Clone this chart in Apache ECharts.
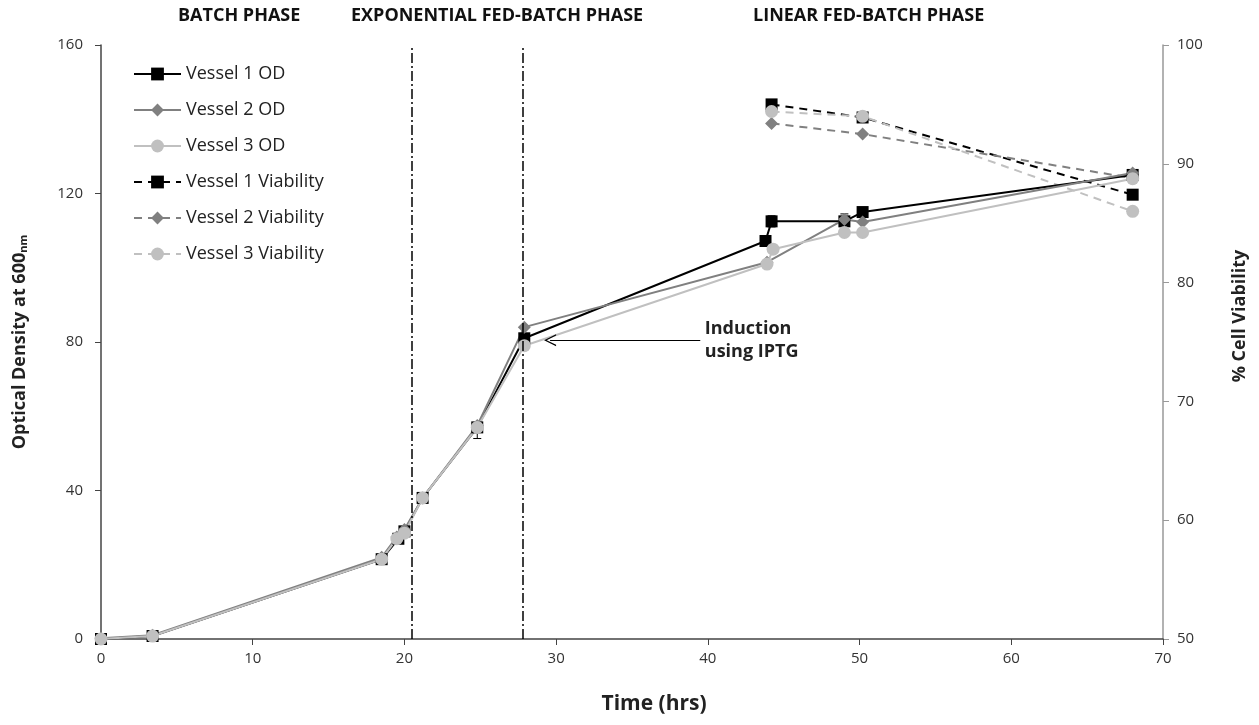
<!DOCTYPE html>
<html><head><meta charset="utf-8">
<script src="https://cdn.jsdelivr.net/npm/echarts@6/dist/echarts.min.js"></script>
<style>html,body{margin:0;padding:0;background:#fff}#c{width:1259px;height:725px}</style>
</head><body><div id="c"></div>
<script>
// Time (hrs), Optical density at 600nm
const v1OD = [[0,0],[3.4,0.8],[18.5,21.5],[19.6,27],[20,29],[21.2,38],[24.8,57],[27.9,81],[43.8,107.2],[44.2,112.5],[49,112.5],[50.2,115],[68,125]];
const v2OD = [[0,0.2],[3.4,1],[18.5,22],[19.5,27.5],[20,29.5],[21.2,38],[24.8,57.5],[27.9,84],[43.9,101.5],[49,113],[50.2,112.3],[68,125.5]];
const v3OD = [[0,0],[3.4,0.8],[18.5,21.5],[19.5,27],[20,28.5],[21.2,38],[24.8,57],[27.9,79],[43.9,101],[44.3,105],[49,109.5],[50.2,109.5],[68,124]];
// error bars: [time, low, high]
const odErr = [[24.8,54,57],[49,110.5,114.5],[44.2,111,114]];
// % cell viability
const v1Via = [[44.2,95.0],[50.2,93.9],[68,87.4]];
const v2Via = [[44.2,93.4],[50.2,92.5],[68,88.8]];
const v3Via = [[44.2,94.4],[50.2,94.0],[68,86.0]];
const phaseLines = [20.5, 27.8];
const xTicks = {min:0, max:70, interval:10};
const odTicks = {min:0, max:160, interval:40};
const viaTicks = {min:50, max:100, interval:10};

const FONT = 'Open Sans';
const C1 = '#000000', C2 = '#808080', C3 = '#c0c0c0';
const chart = echarts.init(document.getElementById('c'));

function odSeries(name, data, color, symbol, size){
  return {name, type:'line', data, xAxisIndex:0, yAxisIndex:0, symbol, symbolSize:size,
    lineStyle:{color, width:2}, itemStyle:{color}, z:3};
}
function viaSeries(name, data, color, symbol, size){
  return {name, type:'line', data, xAxisIndex:0, yAxisIndex:1, symbol, symbolSize:size,
    lineStyle:{color, width:2, type:[8,6]}, itemStyle:{color}, z:3};
}
const s1 = odSeries('Vessel 1 OD', v1OD, C1, 'rect', 12);
s1.markLine = {silent:true, symbol:['none','none'], label:{show:false},
  lineStyle:{color:'#000', width:1.5, type:[10,3,2,3]},
  data: phaseLines.map(x => ({xAxis:x}))};
const s3 = odSeries('Vessel 3 OD', v3OD, C3, 'circle', 13);
s3.markLine = {silent:true, symbol:['none','path://M5,0 L10,10 L8.8,10 L5,2.2 L1.2,10 L0,10 Z'], symbolSize:[12,12],
  label:{show:false}, lineStyle:{color:'#000', width:1, type:'solid'}, itemStyle:{color:'#000'},
  data:[[{coord:[39.5,80.5]},{coord:[29.6,80.5]}]]};
s3.markPoint = {silent:true, symbol:'circle', symbolSize:0,
  label:{show:true, position:'right', distance:0, formatter:'Induction\nusing IPTG',
    fontFamily:FONT, fontWeight:'bold', fontSize:18, lineHeight:23, color:'#222', align:'left'},
  data:[{coord:[39.8,80.5]}]};

const errSeries = {type:'custom', xAxisIndex:0, yAxisIndex:0, z:2, silent:true,
  data: odErr,
  renderItem(params, api){
    const x = api.value(0), lo = api.coord([x, api.value(1)]), hi = api.coord([x, api.value(2)]);
    const w = 4, st = {stroke:'#000', lineWidth:1};
    return {type:'group', children:[
      {type:'line', shape:{x1:lo[0], y1:lo[1], x2:hi[0], y2:hi[1]}, style:st},
      {type:'line', shape:{x1:lo[0]-w, y1:lo[1], x2:lo[0]+w, y2:lo[1]}, style:st},
      {type:'line', shape:{x1:hi[0]-w, y1:hi[1], x2:hi[0]+w, y2:hi[1]}, style:st}]};
  }};

const axisLabel = {fontFamily:FONT, fontSize:15, color:'#333'};
chart.setOption({
  animation:false,
  textStyle:{fontFamily:FONT},
  grid:{left:101, right:96, top:45, bottom:86},
  legend:{orient:'vertical', left:133, top:65, padding:0, itemWidth:47, itemHeight:16, itemGap:18,
    textStyle:{fontFamily:FONT, fontSize:18, lineHeight:16, color:'#222'},
    data:['Vessel 1 OD','Vessel 2 OD','Vessel 3 OD','Vessel 1 Viability','Vessel 2 Viability','Vessel 3 Viability']},
  xAxis:{type:'value', min:xTicks.min, max:xTicks.max, interval:xTicks.interval,
    name:'Time (hrs)', nameLocation:'middle', nameGap:55,
    nameTextStyle:{fontFamily:FONT, fontWeight:'bold', fontSize:21, color:'#222', padding:[0,0,0,44]},
    axisLine:{lineStyle:{color:'#444', width:1.5}}, axisTick:{show:true, length:6, lineStyle:{color:'#444'}},
    splitLine:{show:false}, axisLabel:Object.assign({margin:12}, axisLabel)},
  yAxis:[
    {type:'value', min:odTicks.min, max:odTicks.max, interval:odTicks.interval, position:'left',
     name:'{a|Optical Density at 600}{b|nm}', nameLocation:'middle', nameGap:72, nameRotate:90,
     nameTextStyle:{rich:{a:{fontFamily:FONT, fontWeight:'bold', fontSize:18, color:'#222'},
                          b:{fontFamily:FONT, fontWeight:'bold', fontSize:11, color:'#222', padding:[8,0,0,0]}}},
     axisLine:{show:true, lineStyle:{color:'#444', width:1.5}}, axisTick:{show:true, length:6, lineStyle:{color:'#444'}},
     splitLine:{show:false}, axisLabel:Object.assign({margin:18}, axisLabel)},
    {type:'value', min:viaTicks.min, max:viaTicks.max, interval:viaTicks.interval, position:'right',
     name:'% Cell Viability', nameLocation:'middle', nameGap:68, nameRotate:90,
     nameTextStyle:{fontFamily:FONT, fontWeight:'bold', fontSize:18, color:'#222', padding:[0,0,0,52]},
     axisLine:{show:true, lineStyle:{color:'#999', width:1.5}}, axisTick:{show:true, length:6, lineStyle:{color:'#999'}},
     splitLine:{show:false}, axisLabel:Object.assign({margin:14}, axisLabel)}
  ],
  graphic:[
    {type:'text', left:178, top:7, style:{text:'BATCH PHASE', font:'bold 18px "Open Sans"', fill:'#111'}},
    {type:'text', left:351, top:7, style:{text:'EXPONENTIAL FED-BATCH PHASE', font:'bold 18px "Open Sans"', fill:'#111'}},
    {type:'text', left:753, top:7, style:{text:'LINEAR FED-BATCH PHASE', font:'bold 18px "Open Sans"', fill:'#111'}}
  ],
  series:[
    viaSeries('Vessel 1 Viability', v1Via, C1, 'rect', 12),
    viaSeries('Vessel 2 Viability', v2Via, C2, 'diamond', 13),
    viaSeries('Vessel 3 Viability', v3Via, C3, 'circle', 13),
    errSeries,
    s1,
    odSeries('Vessel 2 OD', v2OD, C2, 'diamond', 13),
    s3
  ]
});
</script></body></html>
